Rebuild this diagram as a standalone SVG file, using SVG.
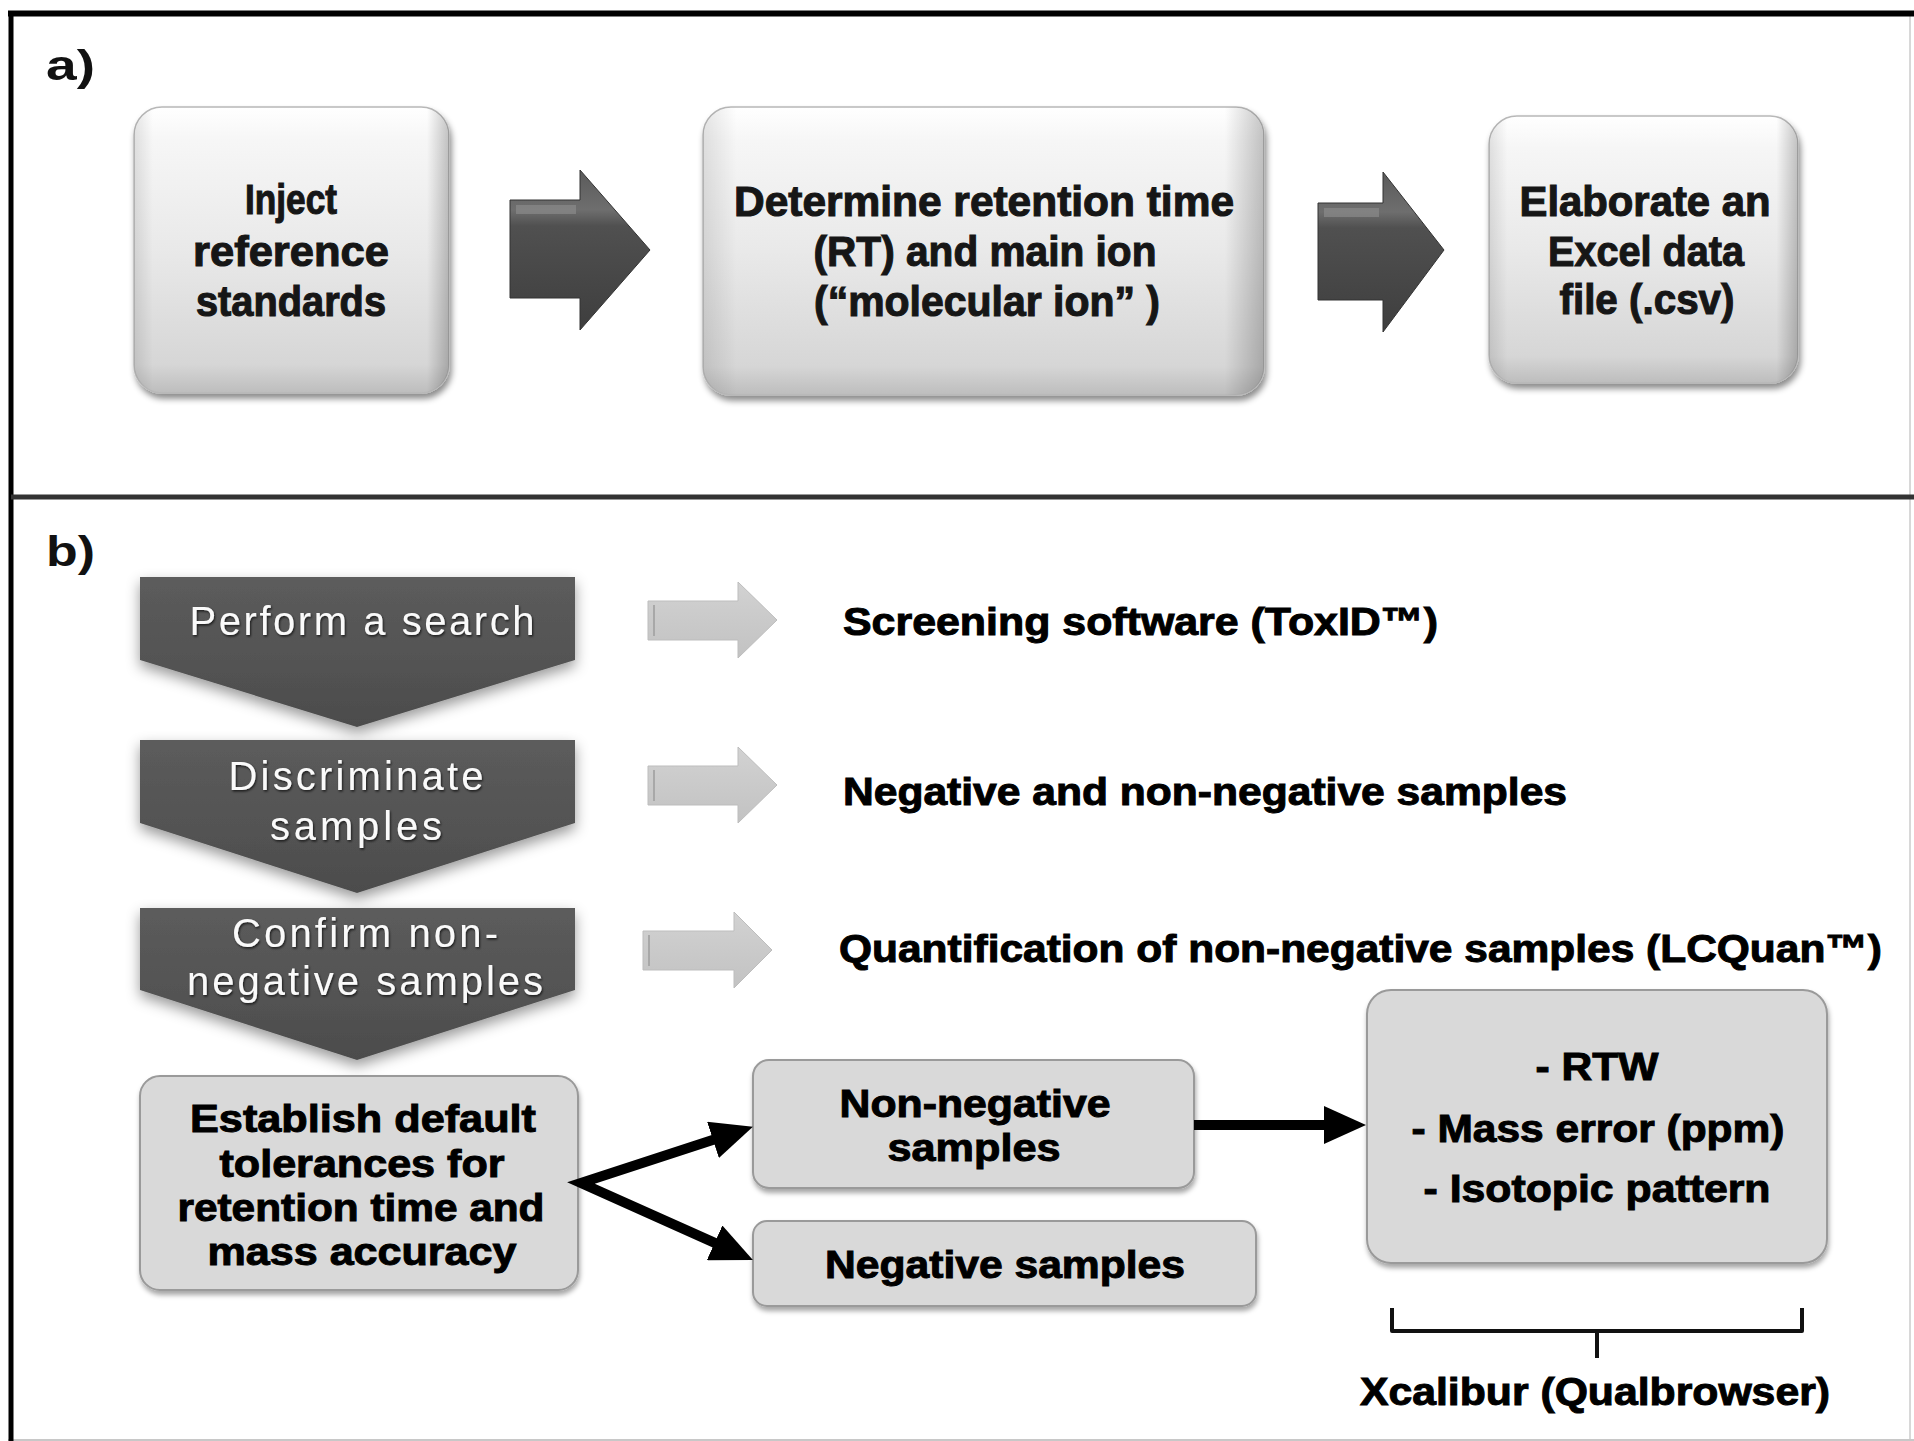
<svg xmlns="http://www.w3.org/2000/svg" width="1914" height="1441" viewBox="0 0 1914 1441">
<defs>
<style>
.bxA{fill:url(#gA);stroke:#b8b8b8;stroke-width:1.5;filter:url(#shA)}
.edgeA{fill:url(#gAe);stroke:none}
.tA{font-family:"Liberation Sans",Arial,sans-serif;font-weight:bold;font-size:42px;fill:#161616;stroke:#161616;stroke-width:1.1;text-anchor:middle}
.lbl{font-family:"Liberation Sans",Arial,sans-serif;font-weight:bold;font-size:42px;fill:#111}
.chev{fill:url(#gC);filter:url(#shC)}
.tC{font-family:"Liberation Sans",Arial,sans-serif;font-size:40px;fill:#fafafa;text-anchor:middle;filter:url(#tsh)}
.tR{font-family:"Liberation Sans",Arial,sans-serif;font-weight:bold;font-size:39px;fill:#000;stroke:#000;stroke-width:1}
.bxB{fill:#d9d9d9;stroke:#9a9a9a;stroke-width:2;filter:url(#shB)}
.tB{font-family:"Liberation Sans",Arial,sans-serif;font-weight:bold;font-size:39px;fill:#000;stroke:#000;stroke-width:1;text-anchor:middle}
.darr{fill:url(#gD);stroke:#333;stroke-width:1}
.larr{fill:url(#gL);stroke:#bdbdbd;stroke-width:1}
.conn{stroke:#000;stroke-width:10;fill:none;stroke-linejoin:miter}
.brace{stroke:#111;stroke-width:4;fill:none;stroke-linejoin:round}
</style>
<linearGradient id="gA" x1="0" y1="0" x2="0" y2="1">
<stop offset="0" stop-color="#ffffff"/>
<stop offset="0.12" stop-color="#f6f6f6"/>
<stop offset="0.5" stop-color="#e9e9e9"/>
<stop offset="0.9" stop-color="#d6d6d6"/>
<stop offset="1" stop-color="#bdbdbd"/>
</linearGradient>
<linearGradient id="gAe" x1="0" y1="0" x2="1" y2="0">
<stop offset="0" stop-color="#000" stop-opacity="0.10"/>
<stop offset="0.06" stop-color="#000" stop-opacity="0"/>
<stop offset="0.93" stop-color="#000" stop-opacity="0"/>
<stop offset="1" stop-color="#000" stop-opacity="0.22"/>
</linearGradient>
<linearGradient id="gC" x1="0" y1="0" x2="0" y2="1">
<stop offset="0" stop-color="#5c5c5c"/>
<stop offset="1" stop-color="#4c4c4c"/>
</linearGradient>
<linearGradient id="gD" x1="0" y1="0" x2="0" y2="1">
<stop offset="0" stop-color="#5a5a5a"/>
<stop offset="0.25" stop-color="#6e6e6e"/>
<stop offset="0.35" stop-color="#505050"/>
<stop offset="1" stop-color="#3e3e3e"/>
</linearGradient>
<linearGradient id="gL" x1="0" y1="0" x2="0" y2="1">
<stop offset="0" stop-color="#d2d2d2"/>
<stop offset="1" stop-color="#c2c2c2"/>
</linearGradient>
<filter id="shA" x="-10%" y="-10%" width="125%" height="130%">
<feDropShadow dx="2" dy="5" stdDeviation="3" flood-color="#000" flood-opacity="0.45"/>
</filter>
<filter id="shB" x="-10%" y="-10%" width="125%" height="130%">
<feDropShadow dx="1" dy="4" stdDeviation="2.5" flood-color="#000" flood-opacity="0.35"/>
</filter>
<filter id="shC" x="-10%" y="-10%" width="125%" height="130%">
<feDropShadow dx="0" dy="6" stdDeviation="7" flood-color="#000" flood-opacity="0.4"/>
</filter>
<filter id="tsh" x="-5%" y="-20%" width="110%" height="150%">
<feDropShadow dx="1" dy="1.5" stdDeviation="1.2" flood-color="#000" flood-opacity="0.7"/>
</filter>
<marker id="ah" viewBox="0 0 42 38" markerWidth="42" markerHeight="38" refX="10" refY="19" orient="auto-start-reverse" markerUnits="userSpaceOnUse">
<path d="M0,0 L42,19 L0,38 Z" fill="#000"/>
</marker>
</defs>

<rect x="0" y="0" width="1914" height="1441" fill="#ffffff"/>

<g id="frame">
<line x1="1910" y1="14" x2="1910" y2="1441" stroke="#d8d8d8" stroke-width="2"/>
<line x1="8" y1="1440" x2="1914" y2="1440" stroke="#c8c8c8" stroke-width="2"/>
<line x1="8" y1="13.5" x2="1914" y2="13.5" stroke="#000" stroke-width="6"/>
<line x1="11" y1="11" x2="11" y2="1441" stroke="#000" stroke-width="5"/>
<line x1="11" y1="497" x2="1914" y2="497" stroke="#333" stroke-width="5"/>
<text class="lbl" x="46" y="80" textLength="49" lengthAdjust="spacingAndGlyphs">a)</text>
<text class="lbl" x="46" y="566" textLength="49" lengthAdjust="spacingAndGlyphs">b)</text>
</g>

<g id="node-inject">
<rect class="bxA" x="134" y="107" width="315" height="286" rx="28"/>
<rect class="edgeA" x="134" y="107" width="315" height="286" rx="28"/>
<text class="tA" x="291" y="214" textLength="92" lengthAdjust="spacingAndGlyphs">Inject</text>
<text class="tA" x="291" y="266" textLength="196" lengthAdjust="spacingAndGlyphs">reference</text>
<text class="tA" x="291" y="316" textLength="190" lengthAdjust="spacingAndGlyphs">standards</text>
</g>

<g id="node-determine">
<rect class="bxA" x="703" y="107" width="561" height="288" rx="28"/>
<rect class="edgeA" x="703" y="107" width="561" height="288" rx="28"/>
<text class="tA" x="984" y="216" textLength="500" lengthAdjust="spacingAndGlyphs">Determine retention time</text>
<text class="tA" x="985" y="266" textLength="343" lengthAdjust="spacingAndGlyphs">(RT) and main ion</text>
<text class="tA" x="987" y="316" textLength="346" lengthAdjust="spacingAndGlyphs">(“molecular ion” )</text>
</g>

<g id="node-elaborate">
<rect class="bxA" x="1489" y="116" width="309" height="267" rx="28"/>
<rect class="edgeA" x="1489" y="116" width="309" height="267" rx="28"/>
<text class="tA" x="1645" y="216" textLength="251" lengthAdjust="spacingAndGlyphs">Elaborate an</text>
<text class="tA" x="1646" y="266" textLength="196" lengthAdjust="spacingAndGlyphs">Excel data</text>
<text class="tA" x="1647" y="314" textLength="175" lengthAdjust="spacingAndGlyphs">file (.csv)</text>
</g>

<g id="node-perform">
<polygon class="chev" points="140,577 575,577 575,660 357,727 140,660"/>
<text class="tC" x="362" y="635" textLength="345" lengthAdjust="spacing">Perform a search</text>
</g>

<g id="node-discriminate">
<polygon class="chev" points="140,740 575,740 575,823 357,893 140,823"/>
<text class="tC" x="356" y="790" textLength="255" lengthAdjust="spacing">Discriminate</text>
<text class="tC" x="356" y="840" textLength="172" lengthAdjust="spacing">samples</text>
</g>

<g id="node-confirm">
<polygon class="chev" points="140,908 575,908 575,990 357,1060 140,990"/>
<text class="tC" x="365" y="947" textLength="266" lengthAdjust="spacing">Confirm non-</text>
<text class="tC" x="365" y="995" textLength="356" lengthAdjust="spacing">negative samples</text>
</g>

<g id="node-screening">
<text class="tR" x="843" y="635" textLength="595" lengthAdjust="spacingAndGlyphs">Screening software (ToxID™)</text>
</g>

<g id="node-negnonneg">
<text class="tR" x="843" y="805" textLength="724" lengthAdjust="spacingAndGlyphs">Negative and non-negative samples</text>
</g>

<g id="node-quant">
<text class="tR" x="839" y="962" textLength="1043" lengthAdjust="spacingAndGlyphs">Quantification of non-negative samples (LCQuan™)</text>
</g>

<g id="node-establish">
<rect class="bxB" x="140" y="1076" width="438" height="214" rx="20"/>
<text class="tB" x="363" y="1132" textLength="346" lengthAdjust="spacingAndGlyphs">Establish default</text>
<text class="tB" x="362" y="1177" textLength="285" lengthAdjust="spacingAndGlyphs">tolerances for</text>
<text class="tB" x="361" y="1221" textLength="367" lengthAdjust="spacingAndGlyphs">retention time and</text>
<text class="tB" x="362" y="1265" textLength="309" lengthAdjust="spacingAndGlyphs">mass accuracy</text>
</g>

<g id="node-nonneg">
<rect class="bxB" x="753" y="1060" width="441" height="128" rx="16"/>
<text class="tB" x="975" y="1117" textLength="271" lengthAdjust="spacingAndGlyphs">Non-negative</text>
<text class="tB" x="974" y="1161" textLength="173" lengthAdjust="spacingAndGlyphs">samples</text>
</g>

<g id="node-neg">
<rect class="bxB" x="753" y="1221" width="503" height="85" rx="14"/>
<text class="tB" x="1005" y="1278" textLength="360" lengthAdjust="spacingAndGlyphs">Negative samples</text>
</g>

<g id="node-criteria">
<rect class="bxB" x="1367" y="990" width="460" height="273" rx="24"/>
<text class="tB" x="1597" y="1080" textLength="123" lengthAdjust="spacingAndGlyphs">- RTW</text>
<text class="tB" x="1598" y="1142" textLength="373" lengthAdjust="spacingAndGlyphs">- Mass error (ppm)</text>
<text class="tB" x="1597" y="1202" textLength="347" lengthAdjust="spacingAndGlyphs">- Isotopic pattern</text>
</g>

<g id="node-xcalibur">
<text class="tB" x="1595" y="1405" textLength="470" lengthAdjust="spacingAndGlyphs">Xcalibur (Qualbrowser)</text>
</g>

<g id="connectors">
<polygon class="darr" points="510,200 580,200 580,170 650,250 580,330 580,298 510,298"/>
<rect x="516" y="205" width="60" height="9" fill="#8a8a8a" opacity="0.7"/>
<polygon class="darr" points="1318,203 1383,203 1383,172 1444,250 1383,332 1383,300 1318,300"/>
<rect x="1324" y="208" width="55" height="9" fill="#8a8a8a" opacity="0.7"/>
<polygon class="larr" points="648,601 738,601 738,582 777,620 738,658 738,640 648,640"/>
<line x1="654" y1="605" x2="654" y2="636" stroke="#a8a8a8" stroke-width="2"/>
<polygon class="larr" points="648,766 738,766 738,747 777,785 738,823 738,805 648,805"/>
<line x1="654" y1="770" x2="654" y2="801" stroke="#a8a8a8" stroke-width="2"/>
<polygon class="larr" points="643,931 734,931 734,912 772,950 734,988 734,970 643,970"/>
<line x1="649" y1="935" x2="649" y2="966" stroke="#a8a8a8" stroke-width="2"/>
<path class="conn" d="M722.5,1136.8 L581,1183 L723.7,1246.9" marker-start="url(#ah)" marker-end="url(#ah)"/>
<path class="conn" d="M1194,1125 L1334,1125" marker-end="url(#ah)"/>
<path class="brace" d="M1392,1308 V1331 H1802 V1308 M1597,1331 V1358"/>
</g>
</svg>
